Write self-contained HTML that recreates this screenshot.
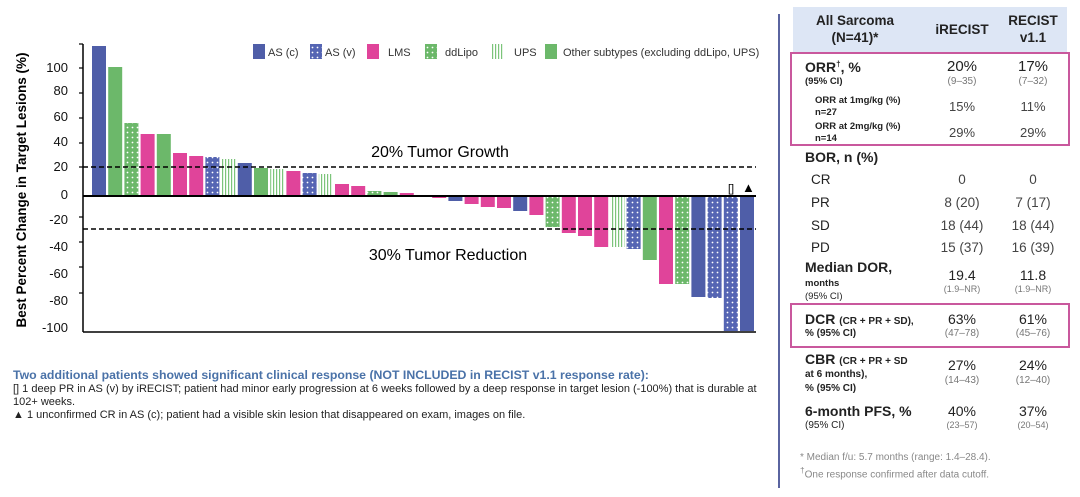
<!DOCTYPE html>
<html><head><meta charset="utf-8"><style>
body{margin:0;width:1080px;height:497px;background:#fff;position:relative;overflow:hidden;font-family:"Liberation Sans",sans-serif;color:#222}
.a{position:absolute;white-space:nowrap}
.b{font-weight:bold}
.c1{position:absolute;width:80px;text-align:center;left:922px}
.c2{position:absolute;width:80px;text-align:center;left:993px}
.g{color:#777;font-size:10px}
</style></head><body>
<svg width="1080" height="497" style="position:absolute;left:0;top:0">
<defs>
<pattern id="pv" width="5" height="5" patternUnits="userSpaceOnUse"><rect width="5" height="5" fill="#5565b3"/><circle cx="2.5" cy="2.5" r="0.9" fill="#fff"/></pattern>
<pattern id="pd" width="5" height="5" patternUnits="userSpaceOnUse"><rect width="5" height="5" fill="#6cb86a"/><circle cx="2.5" cy="2.5" r="0.9" fill="#fff"/></pattern>
<pattern id="pu" width="3" height="5" patternUnits="userSpaceOnUse"><rect width="3" height="5" fill="#fff"/><rect width="1.2" height="5" fill="#7cc47a"/></pattern>
</defs>
<g id="bars"></g>
<line x1="83" y1="44" x2="83" y2="332" stroke="#000" stroke-width="1.5"/>
<line x1="83" y1="332" x2="756" y2="332" stroke="#000" stroke-width="1.5"/>
<line x1="83" y1="196" x2="756" y2="196" stroke="#000" stroke-width="2"/>
<g stroke="#000" stroke-width="1.2">
<line x1="79" y1="44" x2="83" y2="44"/><line x1="79" y1="68" x2="83" y2="68"/><line x1="79" y1="93" x2="83" y2="93"/><line x1="79" y1="118" x2="83" y2="118"/><line x1="79" y1="143" x2="83" y2="143"/><line x1="79" y1="167" x2="83" y2="167"/><line x1="79" y1="217" x2="83" y2="217"/><line x1="79" y1="242" x2="83" y2="242"/><line x1="79" y1="267" x2="83" y2="267"/><line x1="79" y1="293" x2="83" y2="293"/></g>
<line x1="83" y1="167" x2="756" y2="167" stroke="#000" stroke-width="1.5" stroke-dasharray="5,3"/>
<line x1="83" y1="229" x2="756" y2="229" stroke="#000" stroke-width="1.5" stroke-dasharray="5,3"/>
<g font-size="13" text-anchor="end" fill="#111">
<text x="68" y="72">100</text><text x="68" y="95">80</text><text x="68" y="121">60</text><text x="68" y="146">40</text><text x="68" y="171">20</text><text x="68" y="199">0</text><text x="68" y="224">-20</text><text x="68" y="251">-40</text><text x="68" y="278">-60</text><text x="68" y="305">-80</text><text x="68" y="332">-100</text></g>
<text transform="translate(26,190) rotate(-90)" text-anchor="middle" font-size="13.5" font-weight="bold">Best Percent Change in Target Lesions (%)</text>
<text x="440" y="157" text-anchor="middle" font-size="16">20% Tumor Growth</text>
<text x="448" y="260" text-anchor="middle" font-size="16">30% Tumor Reduction</text>
<text x="728" y="192" font-size="11">[]</text><text x="742" y="192" font-size="13">▲</text>
<g font-size="11" fill="#333">
<rect x="253" y="44" width="12" height="15" fill="#4f5ea8"/><text x="268" y="56">AS (c)</text>
<rect x="310" y="44" width="12" height="15" fill="url(#pv)"/><text x="325" y="56">AS (v)</text>
<rect x="367" y="44" width="12" height="15" fill="#e0449a"/><text x="388" y="56">LMS</text>
<rect x="425" y="44" width="12" height="15" fill="url(#pd)"/><text x="445" y="56">ddLipo</text>
<rect x="492" y="44" width="12" height="15" fill="url(#pu)"/><text x="514" y="56">UPS</text>
<rect x="545" y="44" width="12" height="15" fill="#6cb86a"/><text x="563" y="56">Other subtypes (excluding ddLipo, UPS)</text></g>
<line x1="779" y1="14" x2="779" y2="488" stroke="#5a64a0" stroke-width="2"/>
<rect x="793" y="7" width="274" height="46" fill="#dde6f5"/>
<rect x="791" y="53" width="278" height="92" fill="none" stroke="#c9589d" stroke-width="2"/>
<rect x="791" y="304" width="278" height="43" fill="none" stroke="#c9589d" stroke-width="2"/>
</svg>
<div class="a b" style="left:805px;top:12px;width:100px;text-align:center;font-size:13.5px;line-height:17px">All Sarcoma<br>(N=41)*</div>
<div class="c1 b" style="top:22px;font-size:13.5px">iRECIST</div>
<div class="c2 b" style="top:12px;font-size:13.5px;line-height:17px">RECIST<br>v1.1</div>
<div class="a b" style="left:805px;top:59px;font-size:14px">ORR<sup style="font-size:8px">†</sup>, %</div>
<div class="a b" style="left:805px;top:76px;font-size:9.5px">(95% CI)</div>
<div class="c1" style="top:58px;font-size:15px">20%</div><div class="c1 g" style="top:76px">(9–35)</div>
<div class="c2" style="top:58px;font-size:15px">17%</div><div class="c2 g" style="top:76px">(7–32)</div>
<div class="a b" style="left:815px;top:95px;font-size:9.5px;line-height:12px">ORR at 1mg/kg (%)<br>n=27</div>
<div class="c1" style="top:99px;font-size:13px;color:#444">15%</div><div class="c2" style="top:99px;font-size:13px;color:#444">11%</div>
<div class="a b" style="left:815px;top:121px;font-size:9.5px;line-height:12px">ORR at 2mg/kg (%)<br>n=14</div>
<div class="c1" style="top:125px;font-size:13px;color:#444">29%</div><div class="c2" style="top:125px;font-size:13px;color:#444">29%</div>
<div class="a b" style="left:805px;top:149px;font-size:14px">BOR, n (%)</div>
<div class="a" style="left:811px;top:172px;font-size:13.5px">CR</div><div class="c1" style="top:172px;font-size:13.5px;color:#444">0</div><div class="c2" style="top:172px;font-size:13.5px;color:#444">0</div>
<div class="a" style="left:811px;top:195px;font-size:13.5px">PR</div><div class="c1" style="top:195px;font-size:13.5px;color:#444">8 (20)</div><div class="c2" style="top:195px;font-size:13.5px;color:#444">7 (17)</div>
<div class="a" style="left:811px;top:218px;font-size:13.5px">SD</div><div class="c1" style="top:218px;font-size:13.5px;color:#444">18 (44)</div><div class="c2" style="top:218px;font-size:13.5px;color:#444">18 (44)</div>
<div class="a" style="left:811px;top:240px;font-size:13.5px">PD</div><div class="c1" style="top:240px;font-size:13.5px;color:#444">15 (37)</div><div class="c2" style="top:240px;font-size:13.5px;color:#444">16 (39)</div>
<div class="a b" style="left:805px;top:259px;font-size:14px">Median DOR,</div>
<div class="a b" style="left:805px;top:277px;font-size:9.5px;line-height:13px">months<br><span style="font-weight:normal">(95% CI)</span></div>
<div class="c1" style="top:267px;font-size:14px">19.4</div><div class="c1 g" style="top:284px;font-size:9px">(1.9–NR)</div>
<div class="c2" style="top:267px;font-size:14px">11.8</div><div class="c2 g" style="top:284px;font-size:9px">(1.9–NR)</div>
<div class="a b" style="left:805px;top:311px;font-size:14px">DCR <span style="font-size:10px">(CR + PR + SD),</span></div>
<div class="a b" style="left:805px;top:328px;font-size:10px">% (95% CI)</div>
<div class="c1" style="top:311px;font-size:14px">63%</div><div class="c1 g" style="top:328px">(47–78)</div>
<div class="c2" style="top:311px;font-size:14px">61%</div><div class="c2 g" style="top:328px">(45–76)</div>
<div class="a b" style="left:805px;top:351px;font-size:14px">CBR <span style="font-size:10px">(CR + PR + SD</span></div>
<div class="a b" style="left:805px;top:368px;font-size:10px;line-height:14px">at 6 months),<br>% (95% CI)</div>
<div class="c1" style="top:357px;font-size:14px">27%</div><div class="c1 g" style="top:375px">(14–43)</div>
<div class="c2" style="top:357px;font-size:14px">24%</div><div class="c2 g" style="top:375px">(12–40)</div>
<div class="a b" style="left:805px;top:403px;font-size:14px">6-month PFS, %</div>
<div class="a" style="left:805px;top:420px;font-size:10px">(95% CI)</div>
<div class="c1" style="top:403px;font-size:14px">40%</div><div class="c1 g" style="top:420px;font-size:9px">(23–57)</div>
<div class="c2" style="top:403px;font-size:14px">37%</div><div class="c2 g" style="top:420px;font-size:9px">(20–54)</div>
<div class="a" style="left:800px;top:451px;font-size:10px;color:#888;line-height:13px">* Median f/u: 5.7 months (range: 1.4–28.4).<br><sup>†</sup>One response confirmed after data cutoff.</div>
<div class="a b" style="left:13px;top:368px;font-size:12.3px;color:#4a72a8">Two additional patients showed significant clinical response (NOT INCLUDED in RECIST v1.1 response rate):</div>
<div class="a" style="left:13px;top:383px;font-size:11px;line-height:13px;color:#222">[] 1 deep PR in AS (v) by iRECIST; patient had minor early progression at 6 weeks followed by a deep response in target lesion (-100%) that is durable at<br>102+ weeks.<br>▲ 1 unconfirmed CR in AS (c); patient had a visible skin lesion that disappeared on exam, images on file.</div>
<script>
var d=[["c",46],["o",67],["d",123],["l",134],["o",134],["l",153],["l",156],["v",157],["u",159],["c",163],["o",168],["u",169],["l",171],["v",173],["u",174],["l",184],["l",186],["d",191],["o",192],["l",193],[null,196],["l",198],["c",201],["l",204],["l",207],["l",208],["c",211],["l",215],["d",227],["l",233],["l",236],["l",247],["u",247],["v",249],["o",260],["l",284],["d",284],["c",297],["v",298],["v",331],["c",331]];
var f={c:"#4f5ea8",v:"url(#pv)",l:"#e0449a",d:"url(#pd)",u:"url(#pu)",o:"#6cb86a"};
var s="";d.forEach(function(b,i){if(!b[0])return;var x=92+i*16.2,y=Math.min(b[1],196),h=Math.abs(b[1]-196);s+='<rect x="'+x+'" y="'+y+'" width="14" height="'+h+'" fill="'+f[b[0]]+'"/>';});
document.getElementById("bars").innerHTML=s;
</script>
</body></html>
